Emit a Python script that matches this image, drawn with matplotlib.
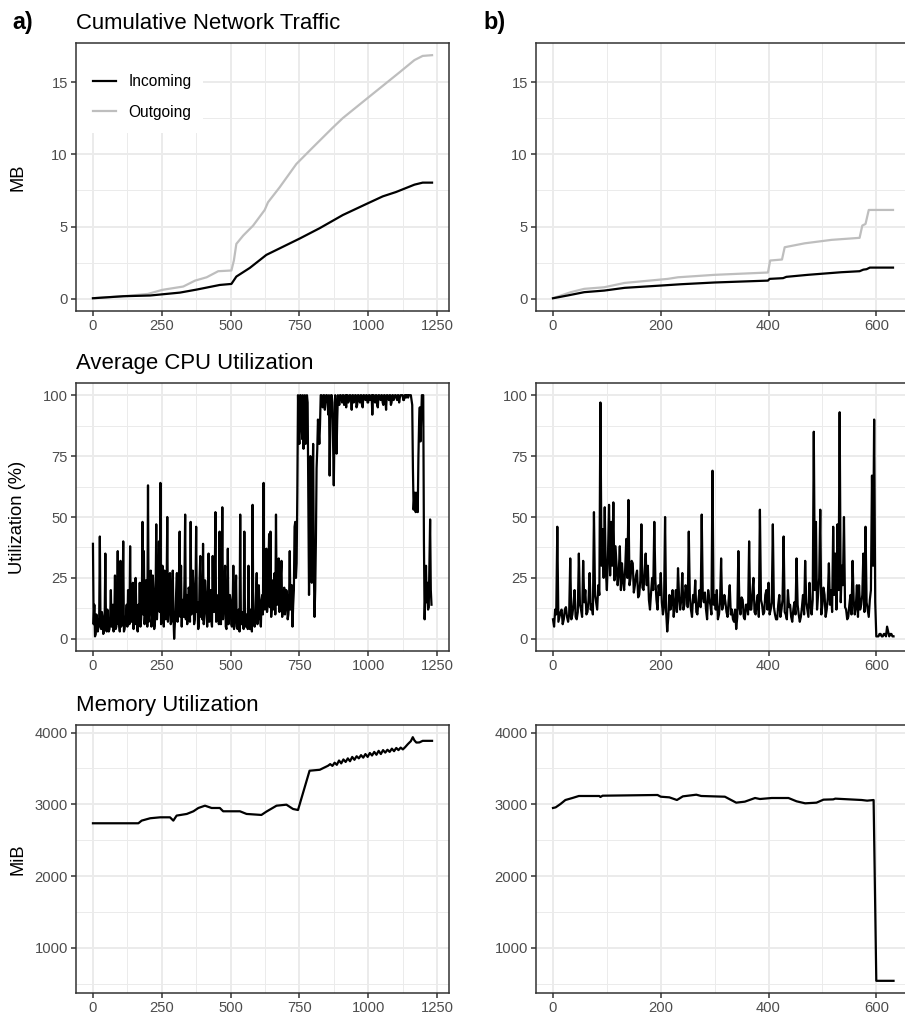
import numpy as np
import matplotlib.pyplot as plt
from matplotlib.patches import Rectangle

# ---- data ----
# cumulative network traffic (MB), run a
net_a_in_x = [0, 111, 208, 316, 377, 461, 503, 521, 570, 630, 751, 823, 908, 993, 1053, 1101, 1168, 1198, 1232]
net_a_in = [0.04, 0.18, 0.23, 0.43, 0.64, 0.96, 1.03, 1.54, 2.14, 3.04, 4.17, 4.88, 5.80, 6.56, 7.09, 7.39, 7.90, 8.04, 8.04]
net_a_out_x = [0, 111, 200, 252, 328, 371, 413, 455, 503, 512, 521, 546, 582, 624, 636, 678, 739, 799, 872,
               908, 993, 1053, 1113, 1168, 1198, 1232]
net_a_out = [0.04, 0.18, 0.34, 0.62, 0.85, 1.26, 1.49, 1.91, 1.96, 2.65, 3.80, 4.38, 5.07, 6.15, 6.68, 7.71,
             9.33, 10.48, 11.86, 12.51, 13.82, 14.74, 15.66, 16.52, 16.81, 16.86]

# cumulative network traffic (MB), run b
net_b_in_x = [0, 27, 58, 95, 133, 201, 238, 300, 399, 402, 427, 433, 473, 535, 569, 576, 582, 588, 631]
net_b_in = [0.04, 0.23, 0.46, 0.57, 0.76, 0.92, 1.01, 1.13, 1.26, 1.38, 1.43, 1.52, 1.66, 1.84, 1.91, 2.02,
            2.05, 2.16, 2.16]
net_b_out_x = [0, 33, 58, 95, 133, 213, 232, 300, 399, 403, 425, 430, 467, 517, 569, 574, 580, 586, 631]
net_b_out = [0.04, 0.46, 0.69, 0.80, 1.10, 1.38, 1.49, 1.66, 1.82, 2.65, 2.72, 3.57, 3.84, 4.08, 4.22, 5.07,
             5.18, 6.15, 6.15]

# average CPU utilization (%), run a, one sample every 2.5 time units
cpu_a_step = 2.5
cpu_a = [
    39, 6, 14, 1, 2, 10, 8, 3, 5, 7, 42, 5, 4, 11, 9, 2, 3, 8, 35, 4,
    3, 12, 7, 3, 4, 9, 20, 5, 6, 14, 3, 8, 26, 4, 5, 10, 36, 6, 7, 3,
    32, 5, 6, 15, 40, 3, 4, 8, 9, 14, 5, 20, 12, 6, 38, 9, 7, 16, 23, 4,
    10, 6, 25, 11, 6, 3, 14, 7, 23, 5, 8, 15, 48, 10, 36, 6, 11, 24, 18, 5,
    63, 7, 12, 18, 28, 5, 9, 26, 20, 4, 6, 17, 47, 8, 15, 22, 40, 11, 64, 6,
    14, 30, 22, 5, 28, 10, 8, 19, 50, 7, 12, 25, 27, 6, 7, 15, 28, 9, 0, 6,
    10, 20, 27, 7, 13, 25, 44, 9, 30, 5, 16, 12, 9, 24, 51, 8, 18, 6, 10, 21,
    20, 7, 48, 10, 12, 28, 22, 6, 8, 19, 46, 11, 15, 4, 6, 25, 34, 9, 14, 8,
    39, 6, 12, 24, 19, 10, 5, 16, 35, 7, 14, 20, 8, 5, 34, 12, 11, 25, 52, 7,
    9, 15, 18, 6, 44, 11, 6, 22, 54, 8, 13, 19, 30, 5, 4, 12, 37, 6, 10, 18,
    16, 6, 5, 12, 30, 4, 8, 14, 26, 5, 4, 9, 12, 3, 51, 8, 6, 11, 10, 4,
    44, 7, 5, 10, 9, 4, 30, 6, 4, 12, 8, 3, 55, 9, 6, 5, 10, 18, 27, 6,
    8, 22, 14, 9, 5, 16, 18, 10, 64, 14, 12, 25, 37, 11, 15, 28, 43, 13, 44, 9,
    13, 24, 20, 12, 27, 10, 51, 16, 14, 22, 33, 11, 17, 26, 32, 9, 12, 18, 21, 10,
    14, 20, 18, 8, 10, 15, 36, 12, 15, 22, 5, 14, 20, 46, 48, 25, 31, 60, 100, 85,
    80, 100, 100, 88, 82, 100, 78, 95, 100, 80, 85, 100, 97, 60, 18, 40, 75, 50, 23, 60,
    80, 30, 9, 20, 40, 70, 78, 90, 85, 80, 88, 100, 100, 98, 95, 100, 100, 94, 98, 100,
    100, 97, 92, 100, 67, 90, 100, 100, 97, 80, 63, 85, 100, 95, 76, 90, 100, 98, 96, 100,
    100, 99, 97, 100, 100, 96, 99, 100, 95, 100, 100, 97, 98, 100, 100, 99, 94, 100, 100, 97,
    99, 100, 100, 95, 96, 100, 100, 98, 97, 100, 100, 96, 95, 100, 100, 99, 98, 100, 100, 97,
    97, 100, 100, 98, 99, 100, 92, 100, 100, 99, 97, 100, 100, 96, 95, 100, 100, 99, 98, 100,
    100, 97, 96, 100, 100, 98, 94, 100, 100, 99, 98, 100, 100, 96, 97, 100, 100, 98, 99, 100,
    100, 99, 98, 100, 100, 97, 99, 100, 100, 100, 100, 98, 98, 100, 100, 99, 100, 100, 99, 100,
    100, 100, 100, 98, 96, 70, 53, 58, 60, 52, 55, 60, 52, 75, 89, 95, 81, 90, 100, 100,
    100, 40, 8, 18, 30, 15, 23, 12, 13, 30, 49, 20, 14,
]

# average CPU utilization (%), run b, one sample every 2 time units
cpu_b_step = 2
cpu_b = [
    8, 5, 12, 10, 46, 7, 9, 11, 12, 6, 8, 12, 13, 9, 7, 10, 33, 8, 10, 14,
    20, 9, 8, 11, 35, 14, 12, 9, 32, 15, 20, 10, 11, 16, 27, 12, 14, 10, 52, 18,
    15, 12, 22, 18, 97, 30, 45, 25, 54, 28, 20, 34, 55, 26, 48, 30, 56, 24, 38, 30,
    22, 27, 38, 20, 31, 24, 20, 29, 41, 25, 57, 22, 25, 32, 31, 19, 22, 26, 28, 17,
    18, 24, 47, 21, 20, 27, 35, 22, 30, 16, 12, 19, 25, 20, 48, 24, 16, 12, 22, 18,
    27, 15, 10, 13, 50, 11, 3, 9, 18, 12, 15, 20, 9, 14, 20, 11, 29, 17, 12, 16,
    27, 12, 14, 22, 20, 13, 44, 17, 12, 9, 18, 15, 24, 11, 10, 16, 20, 13, 51, 17,
    15, 19, 12, 8, 20, 16, 14, 10, 69, 14, 18, 12, 20, 8, 10, 15, 33, 12, 14, 18,
    15, 11, 9, 16, 22, 10, 12, 8, 7, 12, 4, 9, 36, 13, 10, 17, 16, 9, 8, 14,
    14, 10, 40, 12, 12, 19, 25, 11, 10, 15, 18, 9, 53, 16, 14, 10, 11, 18, 20, 12,
    23, 10, 12, 15, 47, 13, 10, 8, 8, 14, 18, 9, 12, 16, 42, 11, 10, 8, 20, 13,
    14, 9, 7, 12, 15, 10, 33, 14, 10, 7, 9, 13, 18, 10, 32, 15, 12, 9, 23, 14,
    10, 16, 85, 20, 48, 12, 18, 25, 53, 10, 14, 21, 18, 9, 12, 17, 31, 14, 20, 11,
    46, 18, 35, 12, 47, 20, 93, 15, 30, 22, 50, 13, 12, 8, 9, 14, 18, 10, 32, 16,
    10, 13, 22, 9, 22, 12, 14, 18, 35, 11, 46, 15, 12, 9, 16, 20, 67, 30, 90, 15,
    1, 1, 1, 2, 2, 1, 1, 2, 2, 1, 5, 3, 1, 2, 2, 1, 1,
]

# memory utilization (MiB)
mem_a_x = [0, 165, 177, 208, 244, 280, 292, 304, 341, 365, 383, 407, 431, 461, 473, 534, 558, 612, 630, 667,
           703, 727, 745, 787, 824, 854, 862, 870, 878, 886, 894, 902, 910, 918, 926, 934, 942, 950, 958, 966,
           974, 982, 990, 998, 1006, 1014, 1022, 1030, 1038, 1046, 1054, 1062, 1070, 1078, 1086, 1094, 1102,
           1110, 1118, 1126, 1134, 1144, 1155, 1162, 1168, 1175, 1186, 1198, 1232]
mem_a = [2736, 2736, 2773, 2806, 2819, 2819, 2773, 2843, 2866, 2903, 2949, 2981, 2949, 2949, 2903, 2903,
         2866, 2852, 2898, 2981, 2995, 2935, 2921, 3468, 3481, 3537, 3560, 3535, 3580, 3550, 3610, 3570,
         3625, 3590, 3640, 3600, 3660, 3620, 3670, 3640, 3685, 3650, 3700, 3660, 3715, 3680, 3730, 3690,
         3745, 3700, 3755, 3720, 3760, 3730, 3775, 3740, 3785, 3755, 3790, 3765, 3795, 3838, 3880, 3935,
         3890, 3860, 3862, 3884, 3884]
mem_b_x = [0, 5, 14, 23, 36, 48, 86, 88, 92, 194, 200, 216, 230, 241, 266, 275, 319, 340, 356, 375, 384,
           406, 437, 452, 468, 489, 502, 520, 524, 573, 583, 595, 600, 632]
mem_b = [2949, 2958, 3005, 3060, 3088, 3116, 3116, 3102, 3120, 3130, 3106, 3097, 3060, 3111, 3134, 3116,
         3106, 3023, 3037, 3088, 3074, 3088, 3088, 3042, 3014, 3023, 3065, 3069, 3079, 3060, 3051, 3060,
         542, 542]

W, H = 905, 1019
BORDER = '#333333'
GRID = '#EBEBEB'
TICKTXT = '#4D4D4D'
OUT_COL = '#BEBEBE'

plt.rcParams['font.family'] = ['Liberation Sans', 'DejaVu Sans']


# ggplot style 5% expansion of the data range
def expand(lo, hi, frac=0.05):
    pad = (hi - lo) * frac
    return lo - pad, hi + pad


def make_axes(fig, left, top, width, height):
    return fig.add_axes([left / W, 1 - (top + height) / H, width / W, height / H])


def style_axes(ax, xticks, xminor, xlim, yticks, yminor, ylim):
    ax.set_xlim(*xlim)
    ax.set_ylim(*ylim)
    ax.set_xticks(xticks)
    ax.set_xticks(xminor, minor=True)
    ax.set_yticks(yticks)
    ax.set_yticks(yminor, minor=True)
    ax.set_xticklabels([str(t) for t in xticks])
    ax.set_yticklabels([str(t) for t in yticks])
    ax.set_axisbelow(True)
    ax.grid(which='major', color=GRID, linewidth=1.4)
    ax.grid(which='minor', color=GRID, linewidth=0.7)
    ax.tick_params(which='major', length=3.3, width=1.1, color=BORDER, labelcolor=TICKTXT,
                   labelsize=10.6, pad=2.6)
    ax.tick_params(which='minor', length=0)
    for sp in ax.spines.values():
        sp.set_color(BORDER)
        sp.set_linewidth(1.1)


fig = plt.figure(figsize=(W / 100, H / 100), dpi=100)

rows_top = [43, 383, 725]
row_h = 268
left_a, left_b, col_w = 76, 536, 374

xa_lim = expand(0, max(net_a_in_x))
xb_lim = expand(0, max(net_b_in_x))
xa_ticks, xa_minor = [0, 250, 500, 750, 1000, 1250], [125, 375, 625, 875, 1125]
xb_ticks, xb_minor = [0, 200, 400, 600], [100, 300, 500]

cpu_a_x = np.arange(len(cpu_a)) * cpu_a_step
cpu_b_x = np.arange(len(cpu_b)) * cpu_b_step

net_lim = expand(0, max(net_a_out + net_b_out))
cpu_lim = expand(0, 100)
mem_lim = expand(min(mem_a + mem_b), max(mem_a + mem_b))

row_specs = [
    ([0, 5, 10, 15], [2.5, 7.5, 12.5], net_lim),
    ([0, 25, 50, 75, 100], [12.5, 37.5, 62.5, 87.5], cpu_lim),
    ([1000, 2000, 3000, 4000], [500, 1500, 2500, 3500], mem_lim),
]

axes = []
for r, top in enumerate(rows_top):
    yt, ym, ylim = row_specs[r]
    ax_a = make_axes(fig, left_a, top, col_w - 1, row_h)
    ax_b = make_axes(fig, left_b, top, col_w, row_h)
    style_axes(ax_a, xa_ticks, xa_minor, xa_lim, yt, ym, ylim)
    style_axes(ax_b, xb_ticks, xb_minor, xb_lim, yt, ym, ylim)
    axes.append((ax_a, ax_b))

lw = 1.6
# network traffic
ax_a, ax_b = axes[0]
ax_a.plot(net_a_out_x, net_a_out, color=OUT_COL, lw=lw, label='Outgoing', zorder=3)
ax_a.plot(net_a_in_x, net_a_in, color='black', lw=lw, label='Incoming', zorder=3)
ax_b.plot(net_b_out_x, net_b_out, color=OUT_COL, lw=lw, zorder=3)
ax_b.plot(net_b_in_x, net_b_in, color='black', lw=lw, zorder=3)

# legend sits on a white box that hides the grid
ax_a.add_patch(Rectangle((0, 0.664), 0.34, 0.336, transform=ax_a.transAxes,
                         facecolor='white', edgecolor='none', zorder=1))
handles, labels = ax_a.get_legend_handles_labels()
ax_a.legend(handles[::-1], labels[::-1], loc='upper left', bbox_to_anchor=(0.045, 0.884),
            frameon=False, borderpad=0, borderaxespad=0, handlelength=1.5, handletextpad=0.8,
            labelspacing=1.0, fontsize=11.2)

# cpu
ax_a, ax_b = axes[1]
ax_a.plot(cpu_a_x, cpu_a, color='black', lw=lw, zorder=3)
ax_b.plot(cpu_b_x, cpu_b, color='black', lw=lw, zorder=3)

# memory
ax_a, ax_b = axes[2]
ax_a.plot(mem_a_x, mem_a, color='black', lw=lw, zorder=3)
ax_b.plot(mem_b_x, mem_b, color='black', lw=lw, zorder=3)

# titles, panel tags and y labels
titles = ['Cumulative Network Traffic', 'Average CPU Utilization', 'Memory Utilization']
ylabels = ['MB', 'Utilization (%)', 'MiB']
for r, top in enumerate(rows_top):
    fig.text(left_a / W, 1 - (top - 14) / H, titles[r], fontsize=15.9, va='baseline', ha='left')
    fig.text(17.5 / W, 1 - (top + row_h / 2) / H, ylabels[r], fontsize=13.2, rotation=90,
             va='center', ha='center')

fig.text(12 / W, 1 - 29 / H, 'a)', fontsize=16.8, fontweight='bold', va='baseline')
fig.text(483 / W, 1 - 29 / H, 'b)', fontsize=16.8, fontweight='bold', va='baseline')

fig.savefig('out.png', dpi=100)
